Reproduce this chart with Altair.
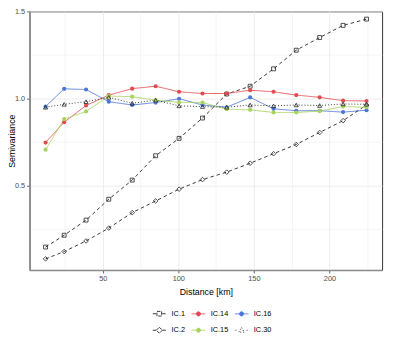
import altair as alt
import pandas as pd

# ---- data ----
distance = [12.2, 24.5, 39.0, 54.0, 69.5, 85.0, 100.5, 116.0, 132.0, 147.5, 163.0, 178.0, 193.5, 209.0, 224.5]
ic1  = [0.145, 0.213, 0.300, 0.420, 0.530, 0.670, 0.770, 0.887, 1.025, 1.070, 1.170, 1.277, 1.350, 1.420, 1.456]
ic2  = [0.077, 0.119, 0.180, 0.254, 0.343, 0.410, 0.478, 0.533, 0.576, 0.627, 0.682, 0.735, 0.804, 0.872, 0.962]
ic14 = [0.746, 0.863, 0.959, 1.019, 1.056, 1.070, 1.038, 1.028, 1.028, 1.047, 1.038, 1.019, 1.006, 0.987, 0.985]
ic15 = [0.705, 0.881, 0.925, 1.013, 1.010, 0.990, 0.977, 0.976, 0.938, 0.934, 0.919, 0.919, 0.927, 0.953, 0.949]
ic16 = [0.953, 1.055, 1.051, 0.981, 0.962, 0.976, 0.998, 0.962, 0.949, 1.006, 0.940, 0.929, 0.929, 0.921, 0.932]
ic30 = [0.949, 0.966, 0.981, 1.006, 0.972, 0.990, 0.957, 0.953, 0.949, 0.962, 0.957, 0.962, 0.959, 0.968, 0.966]

series_names = ["IC.1", "IC.14", "IC.16", "IC.2", "IC.15", "IC.30"]
series_values = {"IC.1": ic1, "IC.14": ic14, "IC.16": ic16, "IC.2": ic2, "IC.15": ic15, "IC.30": ic30}
colors = ["#222222", "#E34A4F", "#4A76D6", "#222222", "#A8D45C", "#222222"]
dashes = [[3.5, 3], [1, 0], [1, 0], [3.5, 3], [1, 0], [1, 2]]

x_ticks = [25, 50, 75, 100, 125, 150, 175, 200, 225]
y_ticks = [0.25, 0.5, 0.75, 1.0, 1.25, 1.5]

rows = []
for name in series_names:
    for d, v in zip(distance, series_values[name]):
        rows.append({"series": name, "dist": d, "value": v})
df = pd.DataFrame(rows)

# legend key glyphs (line + marker) as custom symbol paths.
# Open markers are drawn as separate zero-area segments so they stay hollow.
def ring(r):
    return f"M{r},0A{r},{r} 0 1,1 -{r},0A{r},{r} 0 1,1 {r},0"

def segs(pts):
    out = ""
    for i in range(len(pts)):
        a, b = pts[i], pts[(i + 1) % len(pts)]
        out += f"M{a[0]},{a[1]}L{b[0]},{b[1]}"
    return out

dot = ring(0.3) + ring(0.18) + ring(0.07)
sq = segs([(-0.34, -0.34), (0.34, -0.34), (0.34, 0.34), (-0.34, 0.34)])
dia = segs([(0, -0.44), (0.44, 0), (0, 0.44), (-0.44, 0)])
tri = segs([(0, -0.4), (0.38, 0.28), (-0.38, 0.28)])
legend_paths = [
    "M-0.95,0H-0.42M0.42,0H0.95" + sq,
    "M-1,0H1" + dot,
    "M-1,0H1" + dot,
    "M-0.95,0H-0.46M0.46,0H0.95" + dia,
    "M-1,0H1" + dot,
    "M-0.9,0H-0.74M0.74,0H0.9" + tri,
]

FONT = "Liberation Sans"

xscale = alt.Scale(domain=[1.6, 234.8], nice=False, zero=False)
yscale = alt.Scale(domain=[0.013, 1.5], nice=False, zero=False)

xaxis = alt.Axis(
    values=x_ticks, title="Distance [km]",
    labelExpr="datum.value % 50 === 0 ? datum.label : ''",
    tickOpacity={"condition": {"test": "datum.value % 50 === 0", "value": 1}, "value": 0},
    gridWidth={"condition": {"test": "datum.value % 50 === 0", "value": 0.9}, "value": 0.5},
    labelFontSize=7.5, labelColor="#4D4D4D", labelPadding=2, labelFont=FONT,
    titleFontSize=9, titleFont=FONT, titleFontWeight="normal", titleColor="#000000", titlePadding=6,
    tickSize=3, tickColor="#333333", tickWidth=0.8,
    domainColor="#8C8C8C", domainWidth=1.6, gridColor="#EBEBEB", labelFlush=False,
)
yaxis = alt.Axis(
    values=y_ticks, title="Semivariance", format=".1f",
    labelExpr="(datum.value * 2) % 1 === 0 ? datum.label : ''",
    tickOpacity={"condition": {"test": "(datum.value * 2) % 1 === 0", "value": 1}, "value": 0},
    gridWidth={"condition": {"test": "(datum.value * 2) % 1 === 0", "value": 0.9}, "value": 0.5},
    labelFontSize=7.5, labelColor="#4D4D4D", labelPadding=2, labelFont=FONT,
    titleFontSize=9, titleFont=FONT, titleFontWeight="normal", titleColor="#000000",
    titleX=-22, titleBaseline="top",
    tickSize=3, tickColor="#333333", tickWidth=0.8,
    domainColor="#8C8C8C", domainWidth=1.6, gridColor="#EBEBEB", labelFlush=False,
)

color_scale = alt.Scale(domain=series_names, range=colors)

base = alt.Chart(df).encode(
    x=alt.X("dist:Q", scale=xscale, axis=xaxis),
    y=alt.Y("value:Q", scale=yscale, axis=yaxis),
)

leg = alt.Legend(
    title=None, orient="none", legendX=125, legendY=301,
    direction="horizontal", columns=3,
    symbolSize=196, symbolStrokeWidth=0.9, symbolOpacity=1, symbolFillColor="transparent",
    labelFontSize=7.5, labelFont=FONT, labelColor="#000000", labelOffset=5,
    columnPadding=4, rowPadding=5,
)

# invisible layer that only carries the legend (placed first so its legend wins)
legend_layer = base.mark_point(opacity=0, filled=False, strokeWidth=0.9).encode(
    color=alt.Color("series:N", scale=color_scale, legend=leg),
    shape=alt.Shape("series:N", scale=alt.Scale(domain=series_names, range=legend_paths), legend=leg),
)

lines = base.mark_line(strokeWidth=0.9).encode(
    color=alt.Color("series:N", scale=color_scale, legend=None),
    strokeDash=alt.StrokeDash("series:N", scale=alt.Scale(domain=series_names, range=dashes), legend=None),
    detail="series:N",
)

def pts(names, shape, filled, size):
    return base.transform_filter(
        alt.FieldOneOfPredicate(field="series", oneOf=names)
    ).mark_point(shape=shape, filled=filled, size=size, strokeWidth=0.8, opacity=1).encode(
        color=alt.Color("series:N", scale=color_scale, legend=None)
    )

squares = pts(["IC.1"], "square", False, 16)
diamonds = pts(["IC.2"], "diamond", False, 22)
circles = pts(["IC.14", "IC.15", "IC.16"], "circle", True, 18)
triangles = pts(["IC.30"], "triangle-up", False, 18)

chart = alt.layer(legend_layer, lines, squares, diamonds, circles, triangles).properties(
    width=360, height=264,
    autosize=alt.AutoSizeParams(type="none"),
    padding={"left": 22, "top": 0, "right": 5, "bottom": 70},
).configure_view(stroke="#333333", strokeWidth=1)

chart.save("out.html", embed_options={"renderer": "svg", "actions": False})
